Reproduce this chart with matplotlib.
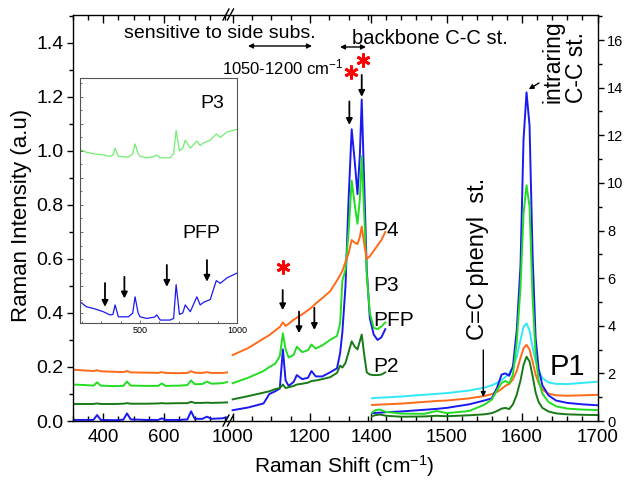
import matplotlib.pyplot as plt
from matplotlib.lines import Line2D
from matplotlib.ticker import MultipleLocator, FixedLocator, FormatStrFormatter

plt.rcParams['font.family'] = ['Liberation Sans', 'DejaVu Sans']
plt.rcParams['mathtext.default'] = 'regular'

W, H = 624, 486

# left part of the broken axis (300-1000 cm-1, left scale)
x_left = [300, 340, 368, 380, 392, 440, 466, 478, 490, 540, 580, 592, 604, 650, 676, 688, 700, 725, 740, 755, 790, 809]
orange_l = [0.190, 0.187, 0.185, 0.188, 0.184, 0.182, 0.181, 0.185, 0.180, 0.179, 0.178, 0.181, 0.178, 0.177, 0.178, 0.184, 0.179, 0.178, 0.181, 0.178, 0.178, 0.180]
lime_l = [0.135, 0.133, 0.131, 0.143, 0.131, 0.129, 0.130, 0.146, 0.131, 0.130, 0.130, 0.139, 0.130, 0.131, 0.133, 0.150, 0.136, 0.137, 0.146, 0.138, 0.140, 0.145]
dgreen_l = [0.063, 0.063, 0.063, 0.065, 0.063, 0.063, 0.064, 0.066, 0.064, 0.064, 0.065, 0.066, 0.065, 0.066, 0.066, 0.071, 0.067, 0.067, 0.068, 0.067, 0.068, 0.069]
blue_l = [0.004, 0.004, 0.004, 0.022, 0.004, 0.003, 0.005, 0.028, 0.006, 0.004, 0.004, 0.010, 0.004, 0.004, 0.006, 0.036, 0.008, 0.008, 0.016, 0.008, 0.010, 0.014]

# middle part (1000-1400 cm-1, left scale)
x_mid = [1000, 1040, 1080, 1095, 1110, 1122, 1130, 1137, 1145, 1158, 1166, 1180, 1195, 1204, 1215, 1232, 1252,
         1270, 1278, 1284, 1292, 1300, 1308, 1316, 1323, 1329, 1334, 1340, 1347, 1355, 1365, 1375, 1385, 1395]
blue_m = [0.040, 0.050, 0.065, 0.100, 0.110, 0.120, 0.265, 0.150, 0.130, 0.145, 0.170, 0.155, 0.160, 0.185, 0.165, 0.165, 0.180,
          0.195, 0.250, 0.330, 0.500, 0.820, 1.080, 0.960, 0.840, 0.980, 1.190, 0.900, 0.560, 0.380, 0.320, 0.300, 0.310, 0.340]
lime_m = [0.140, 0.160, 0.185, 0.200, 0.212, 0.240, 0.325, 0.265, 0.235, 0.245, 0.275, 0.255, 0.262, 0.283, 0.268, 0.280, 0.300,
          0.315, 0.360, 0.520, 0.560, 0.700, 0.890, 0.800, 0.730, 0.820, 0.980, 0.780, 0.540, 0.400, 0.345, 0.340, 0.350, 0.365]
dgreen_m = [0.080, 0.092, 0.105, 0.110, 0.118, 0.122, 0.135, 0.122, 0.125, 0.130, 0.135, 0.138, 0.142, 0.148, 0.150, 0.155, 0.162,
            0.178, 0.205, 0.198, 0.215, 0.255, 0.295, 0.275, 0.265, 0.295, 0.320, 0.250, 0.180, 0.172, 0.170, 0.170, 0.172, 0.180]
orange_m = [0.244, 0.270, 0.305, 0.318, 0.335, 0.348, 0.365, 0.352, 0.360, 0.375, 0.382, 0.395, 0.410, 0.420, 0.435, 0.455, 0.480,
            0.520, 0.540, 0.555, 0.590, 0.620, 0.670, 0.660, 0.655, 0.680, 0.720, 0.660, 0.600, 0.610, 0.630, 0.650, 0.670, 0.700]

# right part (1400-1700 cm-1, right scale)
x_right = [1400, 1406, 1412, 1420, 1440, 1470, 1487, 1500, 1530, 1550, 1560, 1567, 1573, 1578, 1583,
           1588, 1593, 1598, 1602, 1606, 1610, 1614, 1618, 1622, 1627, 1635, 1645, 1660, 1680, 1700]
cyan_r = [0.95, 0.97, 0.98, 0.99, 1.03, 1.10, 1.14, 1.17, 1.28, 1.40, 1.50, 1.60, 1.72, 1.85, 2.00,
          2.25, 2.70, 3.40, 3.95, 4.10, 3.80, 3.10, 2.50, 2.10, 1.80, 1.62, 1.56, 1.55, 1.60, 1.65]
orange_r = [0.67, 0.68, 0.69, 0.70, 0.73, 0.80, 0.84, 0.86, 0.95, 1.05, 1.13, 1.22, 1.35, 1.48, 1.55,
            1.75, 2.10, 2.65, 3.05, 3.20, 3.00, 2.50, 1.95, 1.60, 1.32, 1.15, 1.08, 1.06, 1.08, 1.10]
blue_r = [0.33, 0.34, 0.35, 0.37, 0.40, 0.47, 0.51, 0.55, 0.70, 0.86, 0.95, 1.40, 1.95, 2.00, 1.90,
          2.30, 3.80, 6.50, 11.8, 13.8, 12.4, 7.00, 3.50, 2.20, 1.50, 1.08, 0.86, 0.76, 0.70, 0.66]
lime_r = [0.32, 0.46, 0.48, 0.38, 0.31, 0.30, 0.42, 0.33, 0.42, 0.68, 0.90, 1.30, 1.60, 1.68, 1.58,
          1.95, 3.30, 5.60, 8.70, 9.90, 9.00, 5.20, 2.80, 1.70, 1.15, 0.80, 0.62, 0.52, 0.48, 0.46]
dgreen_r = [0.18, 0.25, 0.27, 0.22, 0.18, 0.19, 0.22, 0.20, 0.24, 0.28, 0.33, 0.42, 0.52, 0.55, 0.50,
            0.70, 1.10, 1.70, 2.35, 2.70, 2.50, 1.90, 1.20, 0.80, 0.55, 0.40, 0.32, 0.28, 0.26, 0.25]

# inset (low wavenumber region of P3 and PFP)
x_inset = [190, 224, 259, 310, 345, 360, 371, 388, 440, 462, 474, 490, 500, 535, 575, 586,
           604, 655, 673, 686, 703, 720, 733, 759, 793, 810, 828, 862, 893, 914, 948, 1000]
p3_inset = [1.006, 0.995, 0.99, 0.985, 0.98, 0.985, 1.01, 0.98, 0.977, 0.99, 1.026, 0.99, 0.98, 0.975, 0.98, 0.985,
            0.974, 0.975, 0.99, 1.076, 1.0, 1.01, 1.04, 1.01, 1.037, 1.02, 1.03, 1.04, 1.063, 1.05, 1.07, 1.08]
pfp_inset = [0.442, 0.423, 0.417, 0.405, 0.393, 0.395, 0.43, 0.386, 0.386, 0.40, 0.46, 0.40, 0.386, 0.38, 0.385, 0.393,
             0.374, 0.374, 0.38, 0.505, 0.395, 0.40, 0.43, 0.405, 0.46, 0.43, 0.44, 0.45, 0.52, 0.51, 0.53, 0.548]

C_OR = '#FF6A1A'
C_LI = '#22DD22'
C_DG = '#177A17'
C_BL = '#1A1AF0'
C_CY = '#30E8F5'
LW = 1.4


def box(x0, x1, y0=15, y1=421):
    # image pixels -> figure fraction rect
    return [x0 / W, 1 - y1 / H, (x1 - x0) / W, (y1 - y0) / H]


def fp(x, y):
    # image pixels -> figure pixels
    return (x, H - y)


fig = plt.figure(figsize=(W / 100, H / 100), dpi=100)
ax1 = fig.add_axes(box(72.7, 228))
ax2 = fig.add_axes(box(228, 371))
ax3 = fig.add_axes(box(371, 597.5))

for ax in (ax1, ax2, ax3):
    ax.patch.set_visible(False)
    for s in ax.spines.values():
        s.set_linewidth(1.0)
    ax.tick_params(axis='x', which='both', direction='in', top=True, bottom=True,
                   labelsize=13.5, pad=6, width=1)
    ax.tick_params(axis='x', which='major', length=5.5)
    ax.tick_params(axis='x', which='minor', length=3.5)

ax1.spines['right'].set_visible(False)
ax2.spines['left'].set_visible(False)
ax2.spines['right'].set_visible(False)
ax3.spines['left'].set_visible(False)

ax1.set_xlim(300, 809)
ax2.set_xlim(988, 1358)
ax3.set_xlim(1400, 1700)
ax1.set_ylim(0, 1.503)
ax2.set_ylim(0, 1.503)
ax3.set_ylim(0, 17.05)

ax1.xaxis.set_major_locator(FixedLocator([400, 600]))
ax1.xaxis.set_minor_locator(MultipleLocator(50))
ax2.xaxis.set_major_locator(FixedLocator([1000, 1200]))
ax2.xaxis.set_minor_locator(MultipleLocator(50))
ax3.xaxis.set_major_locator(FixedLocator([1400, 1500, 1600, 1700]))
ax3.xaxis.set_minor_locator(MultipleLocator(20))

ax1.yaxis.set_major_locator(MultipleLocator(0.2))
ax1.yaxis.set_minor_locator(MultipleLocator(0.1))
ax1.yaxis.set_major_formatter(FormatStrFormatter('%.1f'))
ax1.tick_params(axis='y', which='both', direction='out', labelsize=14, pad=2.5, width=1)
ax1.tick_params(axis='y', which='major', length=4)
ax1.tick_params(axis='y', which='minor', length=3)
ax2.tick_params(axis='y', which='both', left=False, labelleft=False)

ax3.yaxis.tick_right()
ax3.yaxis.set_major_locator(MultipleLocator(2))
ax3.yaxis.set_minor_locator(MultipleLocator(1))
ax3.tick_params(axis='y', which='both', direction='out', labelsize=10.5, pad=3, width=1)
ax3.tick_params(axis='y', which='major', length=4)
ax3.tick_params(axis='y', which='minor', length=3)

# spectra
for y, c in ((blue_l, C_BL), (dgreen_l, C_DG), (lime_l, C_LI), (orange_l, C_OR)):
    ax1.plot(x_left, y, color=c, lw=LW)
for y, c in ((blue_m, C_BL), (lime_m, C_LI), (dgreen_m, C_DG), (orange_m, C_OR)):
    ax2.plot(x_mid, y, color=c, lw=LW, clip_on=False)
for y, c in ((cyan_r, C_CY), (orange_r, C_OR), (blue_r, C_BL), (lime_r, C_LI), (dgreen_r, C_DG)):
    ax3.plot(x_right, y, color=c, lw=LW)

# axis break marks
for yb in (426, 20):
    for dx in (0, 4.5):
        fig.add_artist(Line2D([(223 + dx) / W, (229 + dx) / W], [1 - yb / H, 1 - (yb - 11) / H],
                              transform=fig.transFigure, color='k', lw=1))

arrow = dict(arrowstyle='-|>', color='k', lw=1.3, mutation_scale=9, shrinkA=0, shrinkB=0)

# peak markers in the middle part
for xa, y0, y1 in ((1129.5, 0.485, 0.41), (1171.8, 0.405, 0.325), (1211.4, 0.419, 0.337),
                   (1302, 1.183, 1.096), (1334, 1.281, 1.2)):
    ax2.annotate('', xy=(xa, y1), xytext=(xa, y0), arrowprops=arrow)
for xs, ys in ((1129.5, 0.571), (1305, 1.291), (1338, 1.337)):
    ax2.plot(xs, ys, marker=(6, 2, 0), ms=10, mew=2.0, color='red', clip_on=False)

# top annotations
fig.text(220 / W, 1 - 33 / H, 'sensitive to side subs.', ha='center', va='center', fontsize=14)
ax1.annotate('', xy=fp(312, 46), xytext=fp(248, 46), xycoords='figure pixels',
             arrowprops=dict(arrowstyle='<|-|>', color='k', lw=1, mutation_scale=7, shrinkA=0, shrinkB=0))
fig.text(222 / W, 1 - 67 / H, '1050-1200 cm$^{-1}$', ha='left', va='center', fontsize=12)
ax1.annotate('', xy=fp(366, 47), xytext=fp(340, 47), xycoords='figure pixels',
             arrowprops=dict(arrowstyle='<|-|>', color='k', lw=1, mutation_scale=7, shrinkA=0, shrinkB=0))
fig.text(352 / W, 1 - 39 / H, 'backbone C-C st.', ha='left', va='center', fontsize=14.5)

# sample labels
for lab, yl in (('P4', 230), ('P3', 285), ('PFP', 320), ('P2', 367)):
    fig.text(373 / W, 1 - yl / H, lab, ha='left', va='center', fontsize=15)
fig.text(567 / W, 1 - 367 / H, 'P1', ha='center', va='center', fontsize=21)

fig.text(478 / W, 1 - 259 / H, 'C=C phenyl  st.', rotation=90, ha='center', va='center', fontsize=17)
ax3.annotate('', xy=fp(483.3, 397), xytext=fp(483.3, 350), xycoords='figure pixels',
             arrowprops=dict(arrowstyle='-|>', color='k', lw=1, mutation_scale=7, shrinkA=0, shrinkB=0))
fig.text(565 / W, 1 - 103 / H, 'intraring\nC-C st.', rotation=90, ha='center', va='bottom',
         fontsize=16.5, linespacing=1.0, multialignment='left')
ax3.annotate('', xy=fp(528.7, 89.3), xytext=fp(539, 83), xycoords='figure pixels',
             arrowprops=dict(arrowstyle='-|>', color='k', lw=1, mutation_scale=7, shrinkA=0, shrinkB=0))

# axis titles
fig.text(344 / W, 1 - 466 / H, 'Raman Shift (cm$^{-1}$)', ha='center', va='center', fontsize=15)
fig.text(22 / W, 1 - 215 / H, 'Raman Intensity (a.u)', ha='center', va='center', rotation=90, fontsize=16)

# inset
axi = fig.add_axes(box(80, 237, 78.3, 323.3))
axi.plot(x_inset, p3_inset, color='#70EE70', lw=0.9)
axi.plot(x_inset, pfp_inset, color=C_BL, lw=0.9)
axi.set_xlim(190, 1000)
axi.set_ylim(0.362, 1.269)
for s in axi.spines.values():
    s.set_linewidth(0.8)
    s.set_color('#555555')
axi.xaxis.set_major_locator(FixedLocator([500, 1000]))
axi.xaxis.set_minor_locator(MultipleLocator(100))
axi.yaxis.set_major_locator(MultipleLocator(0.1))
axi.yaxis.set_minor_locator(MultipleLocator(0.05))
axi.tick_params(axis='both', which='both', direction='in', labelsize=6.5, pad=2, width=0.6, color='#555555')
axi.tick_params(axis='both', which='major', length=2.5)
axi.tick_params(axis='both', which='minor', length=1.5)
axi.tick_params(axis='y', labelleft=False)
axi.text(0.84, 0.898, 'P3', transform=axi.transAxes, ha='center', va='center', fontsize=14)
axi.text(0.775, 0.367, 'PFP', transform=axi.transAxes, ha='center', va='center', fontsize=14)
for xa, y0, y1 in ((319, 0.511, 0.423), (419, 0.534, 0.454), (638, 0.578, 0.497), (845, 0.596, 0.516)):
    axi.annotate('', xy=(xa, y1), xytext=(xa, y0), arrowprops=arrow)

fig.savefig('out.png', dpi=100)
